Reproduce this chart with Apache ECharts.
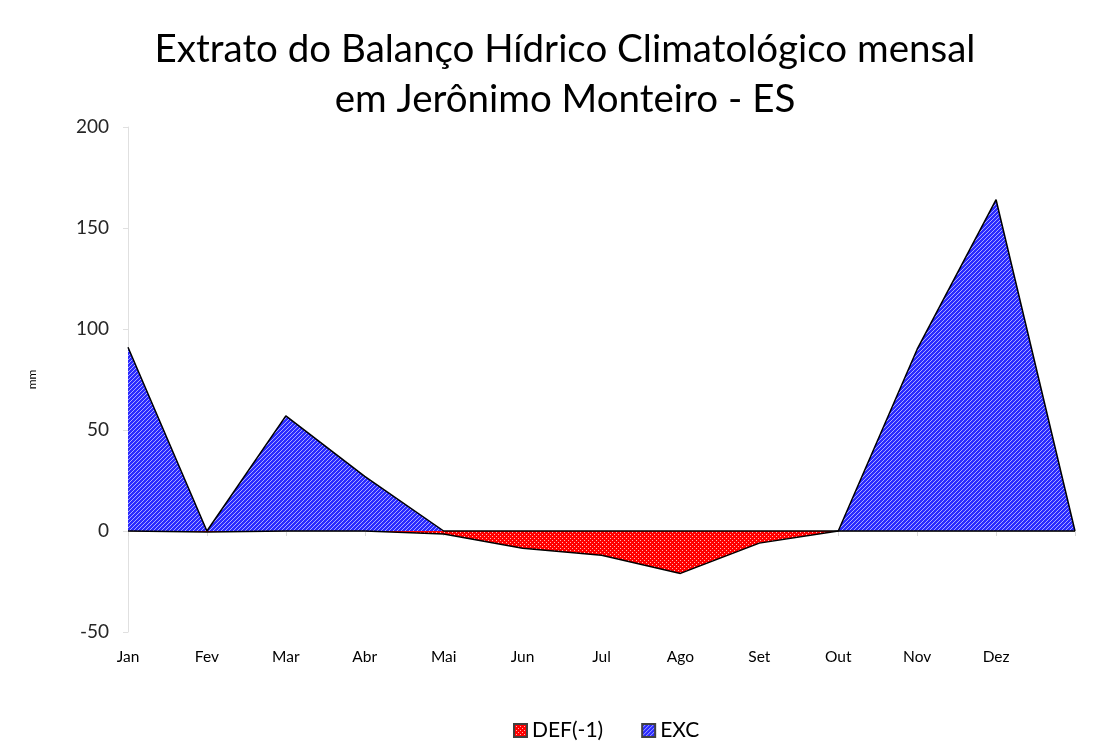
<!DOCTYPE html>
<html>
<head>
<meta charset="utf-8">
<script src="https://cdn.jsdelivr.net/npm/echarts@6/dist/echarts.min.js"></script>
<style>
  html, body { margin: 0; padding: 0; background: #fff; }
  #main { width: 1109px; height: 753px; }
</style>
</head>
<body>
<div id="main"></div>
<script>
// meses (o último ponto fica sem rótulo, como no Excel)
const months = ['Jan', 'Fev', 'Mar', 'Abr', 'Mai', 'Jun', 'Jul', 'Ago', 'Set', 'Out', 'Nov', 'Dez', ''];
const defValues = [0, -0.5, 0, 0, -1.5, -8.5, -12, -21, -6, 0, 0, 0, 0];
const excValues = [91, 0, 57, 27, 0, 0, 0, 0, 0, 0, 90, 164, 0];
const yTicks = [-50, 0, 50, 100, 150, 200];

// texturas de preenchimento (hachura azul, pontilhado vermelho)
function hatch(base, light) {
  const c = document.createElement('canvas');
  c.width = 4; c.height = 4;
  const ctx = c.getContext('2d');
  ctx.fillStyle = base;
  ctx.fillRect(0, 0, 4, 4);
  ctx.fillStyle = light;
  for (let i = 0; i < 4; i++) ctx.fillRect(i, 3 - i, 1, 1);
  return c;
}
function dots(base, light) {
  const c = document.createElement('canvas');
  c.width = 4; c.height = 4;
  const ctx = c.getContext('2d');
  ctx.fillStyle = base;
  ctx.fillRect(0, 0, 4, 4);
  ctx.fillStyle = light;
  ctx.fillRect(0, 0, 1, 1);
  ctx.fillRect(2, 2, 1, 1);
  return c;
}
const bluePattern = { image: hatch('#2a2aff', '#a8a8ff'), repeat: 'repeat' };
const redPattern = { image: dots('#ff0000', '#ffb4b4'), repeat: 'repeat' };

const chart = echarts.init(document.getElementById('main'));
const font = 'Lato, "Noto Sans", sans-serif';

chart.setOption({
  animation: false,
  textStyle: { fontFamily: font },
  title: {
    text: 'Extrato do Balanço Hídrico Climatológico mensal\nem Jerônimo Monteiro - ES',
    left: 560,
    textAlign: 'center',
    top: 20,
    textStyle: { fontFamily: font, fontSize: 38.5, fontWeight: 'normal', color: '#000', lineHeight: 50 }
  },
  legend: {
    bottom: 7,
    left: 508,
    itemWidth: 13,
    itemHeight: 13,
    itemGap: 38,
    icon: 'rect',
    textStyle: { fontFamily: font, fontSize: 21, color: '#000' },
    data: ['DEF(-1)', 'EXC']
  },
  grid: { left: 128, right: 34, top: 127, bottom: 121 },
  xAxis: [
    {
      type: 'category',
      data: months,
      boundaryGap: false,
      axisLine: { show: false, onZero: false },
      axisTick: { show: false },
      axisLabel: { fontFamily: font, fontSize: 15.5, color: '#000', margin: 17 },
      splitLine: { show: false }
    },
    {
      type: 'category',
      data: months,
      boundaryGap: false,
      position: 'bottom',
      axisLine: { show: true, onZero: true, lineStyle: { color: '#bfbfbf', width: 1 } },
      axisTick: { show: true, inside: false, length: 5, lineStyle: { color: '#d9d9d9' } },
      axisLabel: { show: false }
    }
  ],
  yAxis: {
    type: 'value',
    min: yTicks[0],
    max: yTicks[yTicks.length - 1],
    interval: 50,
    name: 'mm',
    nameLocation: 'middle',
    nameGap: 90,
    nameTextStyle: { fontFamily: font, fontSize: 12, color: '#000' },
    axisLine: { show: true, lineStyle: { color: '#e0e0e0' } },
    axisTick: { show: true, length: 5, lineStyle: { color: '#e0e0e0' } },
    axisLabel: { fontFamily: font, fontSize: 19, color: '#262626', margin: 19 },
    splitLine: { show: false }
  },
  series: [
    {
      name: 'DEF(-1)',
      type: 'line',
      data: defValues,
      symbol: 'none',
      lineStyle: { color: '#000', width: 1.5 },
      itemStyle: { color: redPattern, borderColor: '#404040', borderWidth: 1 },
      areaStyle: { color: redPattern, opacity: 1 }
    },
    {
      name: 'EXC',
      type: 'line',
      data: excValues,
      symbol: 'none',
      lineStyle: { color: '#000', width: 1.5 },
      itemStyle: { color: bluePattern, borderColor: '#404040', borderWidth: 1 },
      areaStyle: { color: bluePattern, opacity: 1 }
    }
  ]
});
</script>
</body>
</html>
